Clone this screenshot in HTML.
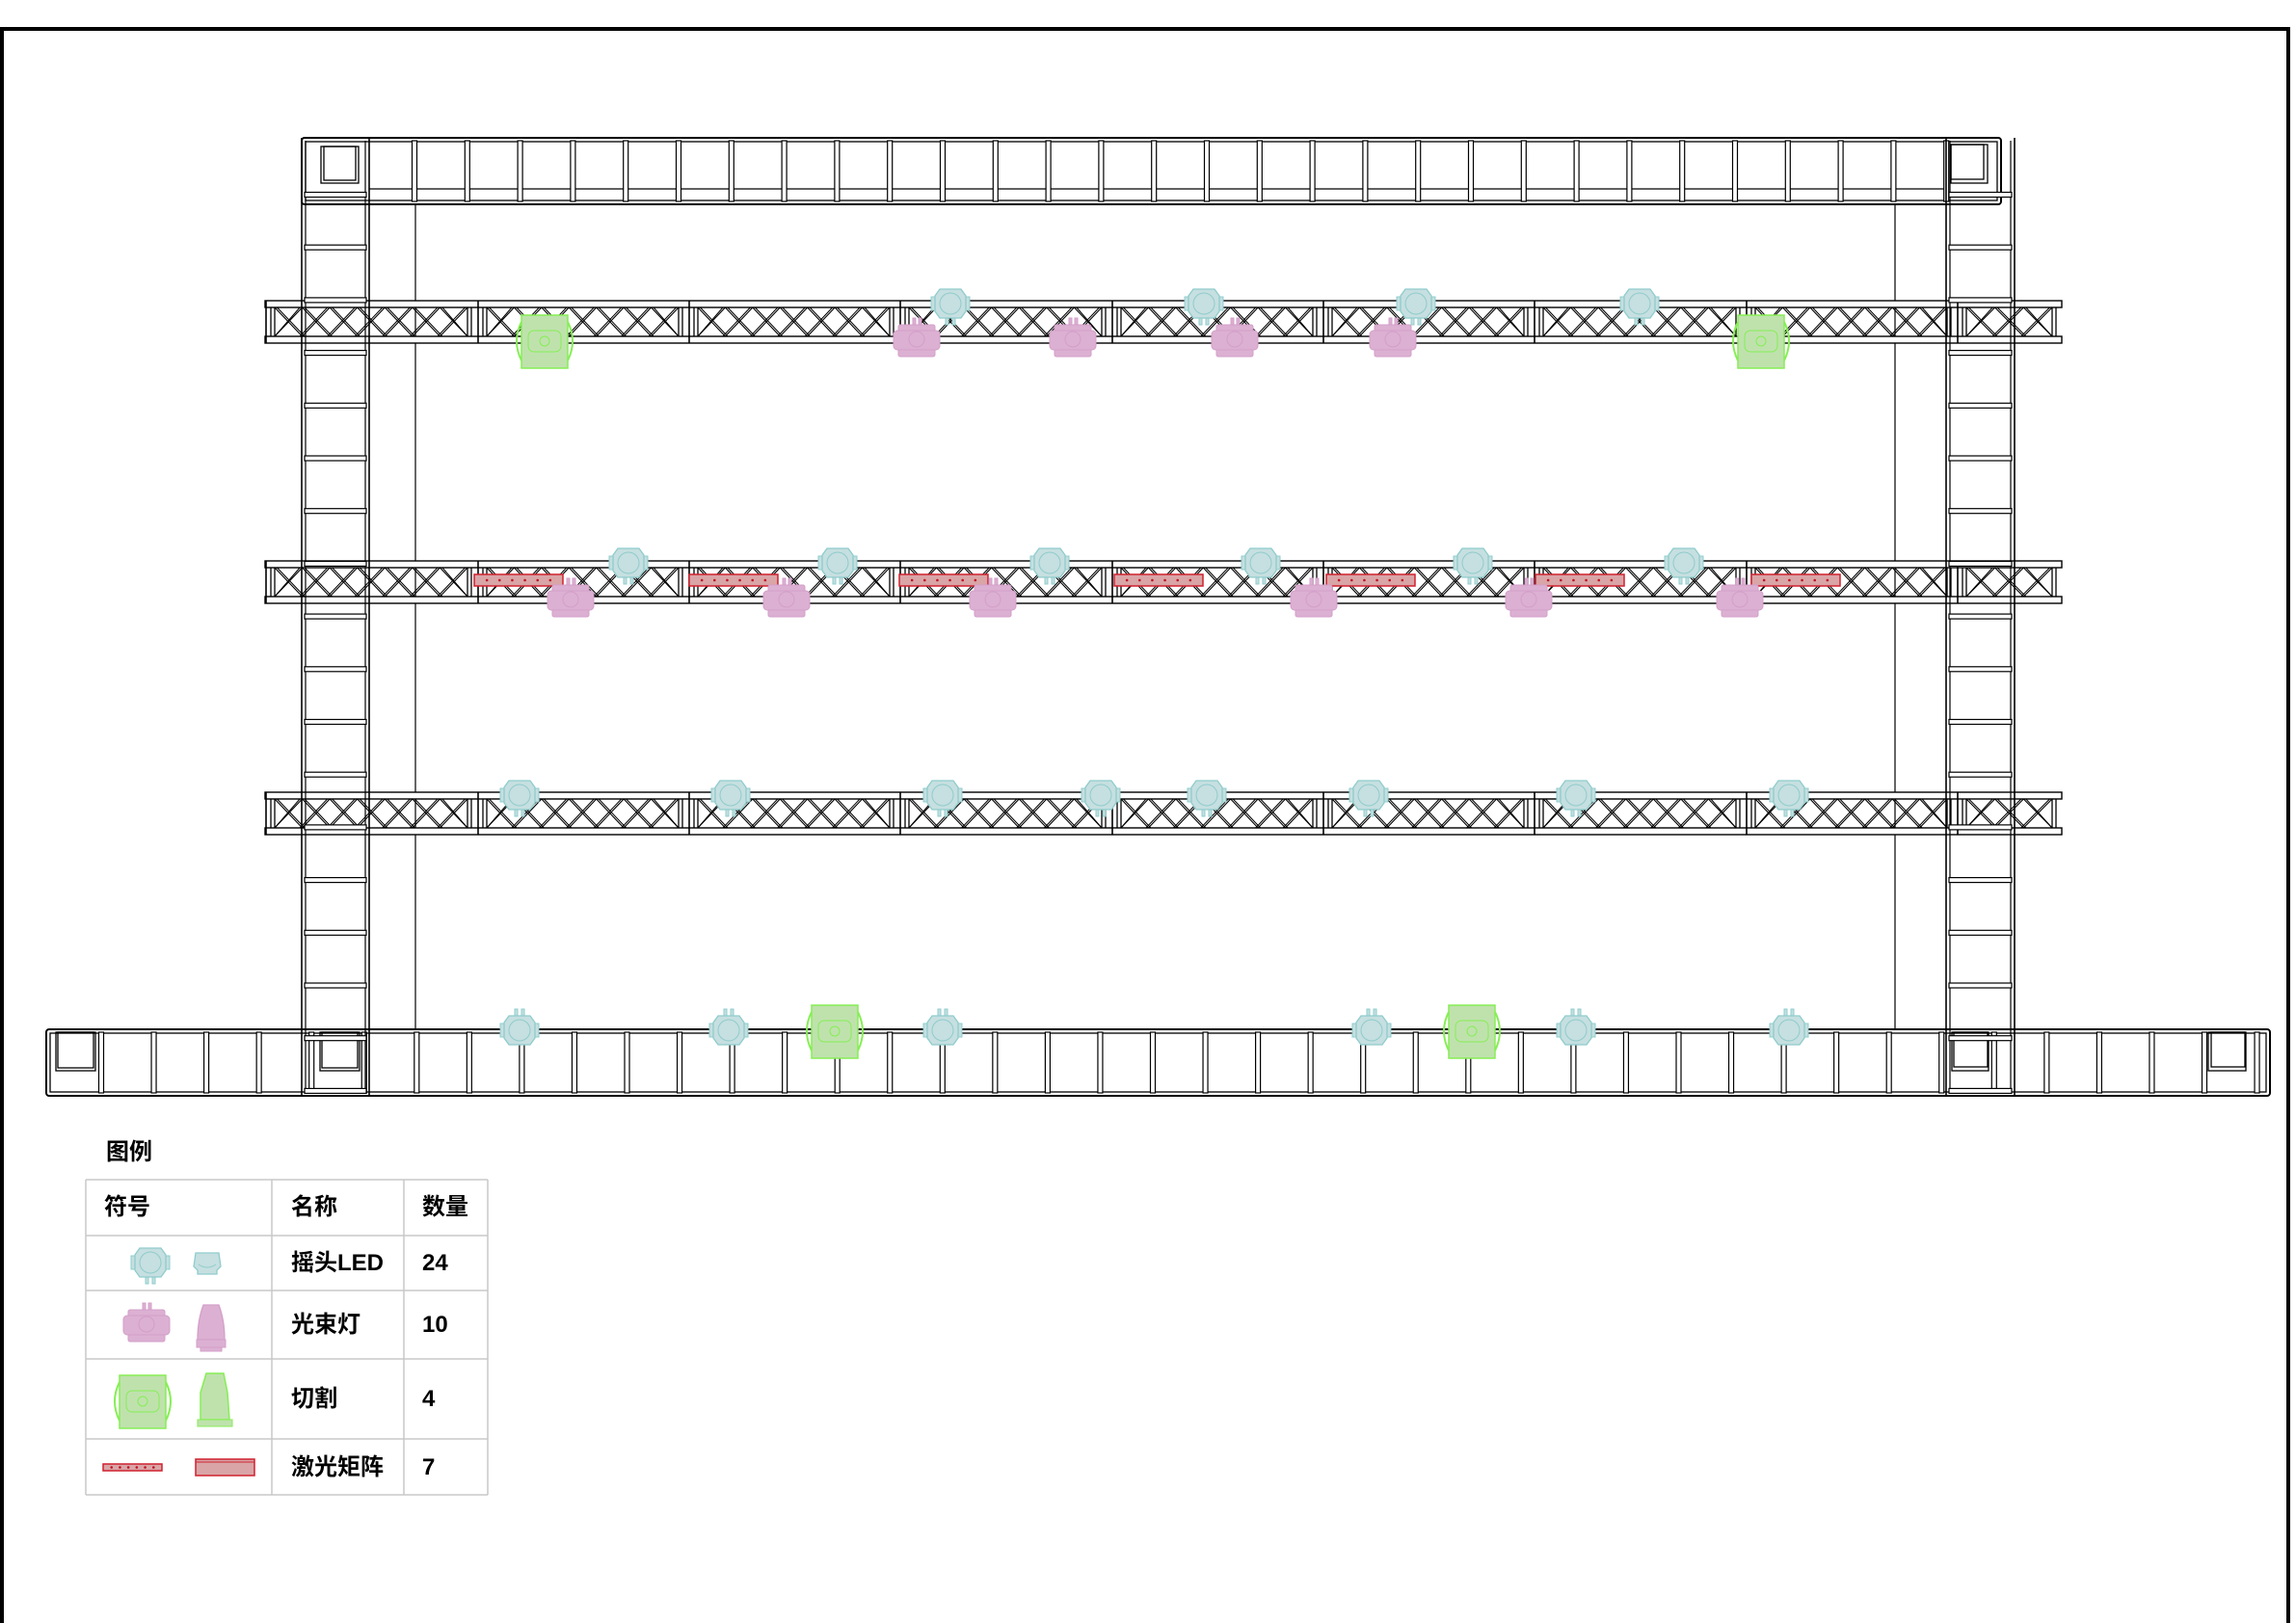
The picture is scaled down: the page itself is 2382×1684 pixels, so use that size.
<!DOCTYPE html>
<html><head><meta charset="utf-8">
<style>
html,body{margin:0;padding:0;background:#fff;overflow:hidden;width:2382px;height:1684px;}
body{position:relative;font-family:"Liberation Sans","Noto Sans CJK SC",sans-serif;}
#frame{position:absolute;left:0;top:28px;width:2382px;height:1656px;overflow:hidden;}
#frame div{position:absolute;left:0;top:0;width:2376px;height:1700px;border:4px solid #000;box-sizing:border-box;}
svg{position:absolute;left:0;top:0;}
.lg{position:absolute;font-weight:bold;font-size:24px;color:#000;line-height:1;}
</style></head>
<body>
<div id="frame"><div></div></div>
<svg id="s" width="2382" height="1684" viewBox="0 0 2382 1684"></svg>
<div class="lg" style="left:110px;top:1184px;">图例</div>
<div class="lg" style="left:108px;top:1241px;">符号</div>
<div class="lg" style="left:302px;top:1241px;">名称</div>
<div class="lg" style="left:438px;top:1241px;">数量</div>
<div class="lg" style="left:302px;top:1299px;">摇头LED</div>
<div class="lg" style="left:438px;top:1299px;">24</div>
<div class="lg" style="left:302px;top:1363px;">光束灯</div>
<div class="lg" style="left:438px;top:1363px;">10</div>
<div class="lg" style="left:302px;top:1440px;">切割</div>
<div class="lg" style="left:438px;top:1440px;">4</div>
<div class="lg" style="left:302px;top:1511px;">激光矩阵</div>
<div class="lg" style="left:438px;top:1511px;">7</div>
<script>
var s=document.getElementById('s');var h='';
function L(x1,y1,x2,y2,w,c){h+='<line x1="'+x1+'" y1="'+y1+'" x2="'+x2+'" y2="'+y2+'" stroke="'+(c||'#000')+'" stroke-width="'+(w||1.3)+'"/>';}
function R(x,y,w,ht,f,st,sw,rx){h+='<rect x="'+x+'" y="'+y+'" width="'+w+'" height="'+ht+'" fill="'+(f||'none')+'" stroke="'+(st||'#000')+'" stroke-width="'+(sw||1.3)+'"'+(rx?' rx="'+rx+'"':'')+'/>';}
R(313,143,1763,69,'#fff','#000',2,3);R(317,147,1755,61);
L(383,196,2019,196,1.2);
for(var x=430;x<2020;x+=54.8){R(x-2.5,146,5,63,'#fff','#000',1.2);}
R(333,152,39,38);R(336,152,33,35);
R(2024,150,38,40);R(2024,150,34,36);
R(48,1068,2307,69,'#fff','#000',2,3);R(52,1072,2299,61);
for(var x=105;x<2350;x+=54.55){R(x-2.5,1071,5,63,'#fff','#000',1.2);}
R(58,1071,41,40);R(60,1071,37,37);
R(332,1071,41,40);R(334,1071,37,37);
R(2025,1071,38,40);R(2027,1071,35,36);
R(2291,1071,39,40);R(2294,1071,35,36);
L(431,212,431,1068,1.2);L(1966,212,1966,1068,1.2);
var segs=[275,495,714,933,1153,1372,1591,1811,2030,2139];
function rail(y0){var y1=y0+44;
 R(275,y0,1864,7,'#fff','#000',1.4);R(275,y1-7,1864,7,'#fff','#000',1.4);
 for(var i=0;i<segs.length-1;i++){var a=segs[i],b=segs[i+1];
  L(a+1,y0,a+1,y1,1.6);L(a+6,y0+7,a+6,y1-7);L(a+10,y0+7,a+10,y1-7);
  L(b-10,y0+7,b-10,y1-7);L(b-6,y0+7,b-6,y1-7);
  var n=Math.max(1,Math.round((b-a-20)/27));var w=(b-a-20)/n;
  for(var k=0;k<n;k++){var xa=a+10+k*w,xb=xa+w;
   L(xa,y0+7,xb,y1-7,1.1);L(xa+2.5,y0+7,Math.min(xb+2.5,b-10),y1-7,1);
   L(xb,y0+7,xa,y1-7,1.1);L(xb-2.5,y0+7,Math.max(xa-2.5,a+10),y1-7,1);}
 }}
rail(312);rail(582);rail(822);
function col(x0,x1){L(x0,143,x0,1138,1.6);L(x0+4,146,x0+4,1135,1.2);L(x1,143,x1,1138,1.6);L(x1-4,146,x1-4,1135,1.2);
 for(var y=202;y<1140;y+=54.7){R(x0+3,y-2.5,x1-x0-6,5,'#fff','#000',1.2);}}
col(313,383);col(2019,2090);
var CF='#c6dfe0',CS='#8fcccc',PF='#dcb0d2',PS='#d39fc9',GF='#bfe2ad',GS='#86ee55';
function cyan(cx,cy,up){var o='';
 var p=[[-11,-15],[11,-15],[16,-8],[16,8],[11,15],[-11,15],[-16,8],[-16,-8]].map(function(q){return (cx+q[0])+','+(cy+q[1])}).join(' ');
 var ly=up?cy-22:cy+15;
 o+='<rect x="'+(cx-5)+'" y="'+ly+'" width="3" height="7" fill="'+CF+'" stroke="'+CS+'"/><rect x="'+(cx+2)+'" y="'+ly+'" width="3" height="7" fill="'+CF+'" stroke="'+CS+'"/>';
 o+='<rect x="'+(cx-20)+'" y="'+(cy-7)+'" width="40" height="14" fill="'+CF+'" stroke="'+CS+'"/>';
 o+='<polygon points="'+p+'" fill="'+CF+'" stroke="'+CS+'" stroke-width="1.3"/>';
 o+='<circle cx="'+cx+'" cy="'+cy+'" r="11" fill="none" stroke="'+CS+'"/>';h+=o;}
function pink(cx,cy){var o='';
 o+='<rect x="'+(cx-4)+'" y="'+(cy-22)+'" width="3" height="8" fill="'+PF+'" stroke="'+PS+'"/><rect x="'+(cx+2)+'" y="'+(cy-22)+'" width="3" height="8" fill="'+PF+'" stroke="'+PS+'"/>';
 o+='<rect x="'+(cx-19)+'" y="'+(cy-15)+'" width="38" height="33" fill="'+PF+'" stroke="'+PS+'" rx="2"/>';
 o+='<rect x="'+(cx-24)+'" y="'+(cy-9)+'" width="48" height="20" fill="'+PF+'" stroke="'+PS+'" rx="4"/>';
 o+='<circle cx="'+cx+'" cy="'+cy+'" r="8" fill="none" stroke="'+PS+'"/>';h+=o;}
function green(cx,cy){var o='';
 o+='<path d="M'+(cx-24)+' '+(cy-20)+' Q'+(cx-34)+' '+cy+' '+(cx-24)+' '+(cy+20)+' M'+(cx+24)+' '+(cy-20)+' Q'+(cx+34)+' '+cy+' '+(cx+24)+' '+(cy+20)+'" fill="none" stroke="'+GS+'" stroke-width="2"/>';
 o+='<rect x="'+(cx-24)+'" y="'+(cy-27)+'" width="48" height="55" fill="'+GF+'" stroke="'+GS+'" stroke-width="1.5"/>';
 o+='<rect x="'+(cx-17)+'" y="'+(cy-11)+'" width="34" height="22" fill="none" stroke="'+GS+'" rx="6"/>';
 o+='<circle cx="'+cx+'" cy="'+cy+'" r="5" fill="none" stroke="'+GS+'"/>';h+=o;}
function laser(x,y,w,ht){h+='<rect x="'+x+'" y="'+y+'" width="'+w+'" height="'+ht+'" fill="#d9a5a7" stroke="#d0202e" stroke-width="1.5"/>';
 if(ht<14){for(var i=1;i<=6;i++){h+='<circle cx="'+(x+w*i/7)+'" cy="'+(y+ht/2)+'" r="1.3" fill="#c01020"/>';}}}
[986,1249,1469,1701].forEach(function(x){cyan(x,315);});
[951,1113,1281,1445].forEach(function(x){pink(x,352);});
green(565,354);green(1827,354);
[492,715,933,1156,1376,1593,1817].forEach(function(x){laser(x,596,92,12);});
[652,869,1089,1308,1528,1747].forEach(function(x){cyan(x,584);});
[592,816,1030,1363,1586,1805].forEach(function(x){pink(x,622);});
[539,758,978,1142,1252,1420,1635,1856].forEach(function(x){cyan(x,825);});
[539,756,978,1423,1635,1856].forEach(function(x){cyan(x,1069,true);});
green(866,1070);green(1527,1070);
var G='#c8c8c8';
[1224,1282,1339,1410,1493,1551].forEach(function(y){L(89,y,506,y,1.5,G);});
[89,282,419,506].forEach(function(x){L(x,1224,x,1551,1.5,G);});
cyan(156,1310);
h+='<path d="M203 1300 L227 1300 L229 1314 L225 1318 L225 1322 L205 1322 L205 1318 L201 1314 Z" fill="'+CF+'" stroke="'+CS+'" stroke-width="1.3"/><path d="M206 1312 Q215 1318 224 1312" fill="none" stroke="'+CS+'"/>';
pink(152,1374);
h+='<path d="M211 1354 L227 1354 Q233 1370 233 1390 L205 1390 Q205 1370 211 1354 Z" fill="'+PF+'" stroke="'+PS+'" stroke-width="1.3"/><rect x="204" y="1390" width="30" height="8" fill="'+PF+'" stroke="'+PS+'"/><rect x="208" y="1398" width="22" height="4" fill="'+PF+'" stroke="'+PS+'"/>';
green(148,1454);
h+='<path d="M214 1425 L232 1425 L236 1445 L238 1473 L208 1473 L208 1445 Z" fill="'+GF+'" stroke="'+GS+'" stroke-width="1.5"/><rect x="205" y="1473" width="36" height="7" fill="'+GF+'" stroke="'+GS+'"/>';
laser(107,1519,61,7);
laser(203,1514,61,17);L(203,1517,264,1517,1,'#d0202e');
s.innerHTML=h;
</script>
</body></html>
